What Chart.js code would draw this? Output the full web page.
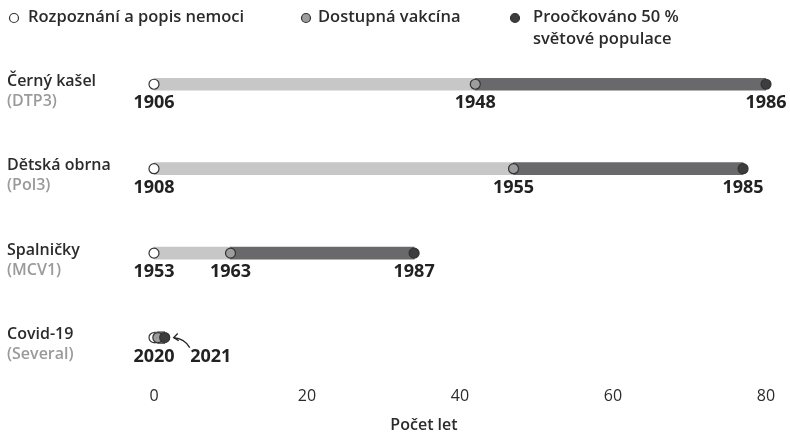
<!DOCTYPE html>
<html>
<head>
<meta charset="utf-8">
<script src="https://cdn.jsdelivr.net/npm/chart.js@4"></script>
<style>
  html, body { margin: 0; padding: 0; background: #fff; }
  #wrap { width: 790px; height: 437px; position: relative; }
</style>
</head>
<body>
<div id="wrap"><canvas id="vaxChart"></canvas></div>
<script>
// Nemoci a jejich podtitulky
const nemoci = ['Černý kašel', 'Dětská obrna', 'Spalničky', 'Covid-19'];
const podtitulky = ['(DTP3)', '(Pol3)', '(MCV1)', '(Several)'];

// Roky (popisky)
const rokRozpoznani = [1906, 1908, 1953, 2020];
const rokVakciny = [1948, 1955, 1963, 2020];
const rokPolovina = [1986, 1985, 1987, 2021];

// Počet let od rozpoznání
const letDoVakciny = [42, 47, 10, 0.5];
const letDoPoloviny = [80, 77, 34, 1.4];

const xTicks = [0, 20, 40, 60, 80];

const FONT = "'Open Sans', 'Noto Sans', sans-serif";
const TEXT = '#2b2b2b';
const SEDA = '#9a9a9a';

const legendaPolozky = [
    { text: ['Rozpoznání a popis nemoci'], fill: '#ffffff', x: 14, tx: 28 },
    { text: ['Dostupná vakcína'], fill: '#9d9d9d', x: 306, tx: 318 },
    { text: ['Proočkováno 50 %', 'světové populace'], fill: '#3d3d3d', x: 515, tx: 533 }
];

function kruh(ctx, x, y, r, fill) {
    ctx.beginPath();
    ctx.arc(x, y, r, 0, Math.PI * 2);
    ctx.fillStyle = fill;
    ctx.fill();
    ctx.lineWidth = 1.2;
    ctx.strokeStyle = '#333';
    ctx.stroke();
}

const popiskyPlugin = {
    id: 'popisky',
    afterDraw(chart) {
        const ctx = chart.ctx;
        const xs = chart.scales.x;
        const ys = chart.scales.y;
        ctx.save();

        // legenda nahoře
        legendaPolozky.forEach(p => {
            kruh(ctx, p.x, 18, 4.5, p.fill);
            ctx.fillStyle = TEXT;
            ctx.font = `600 16.5px ${FONT}`;
            ctx.textAlign = 'left';
            ctx.textBaseline = 'middle';
            p.text.forEach((t, i) => ctx.fillText(t, p.tx, 17 + i * 22));
        });

        // název osy x (v originále není přesně na středu)
        ctx.font = `600 16px ${FONT}`;
        ctx.fillStyle = TEXT;
        ctx.textAlign = 'center';
        ctx.fillText('Počet let', 424, 425);

        nemoci.forEach((n, i) => {
            const y = ys.getPixelForValue(i);

            // názvy nemocí vlevo
            ctx.textAlign = 'left';
            ctx.textBaseline = 'middle';
            ctx.font = `600 16px ${FONT}`;
            ctx.fillStyle = TEXT;
            ctx.fillText(n, 7, y - 3);
            ctx.fillStyle = SEDA;
            ctx.fillText(podtitulky[i], 7, y + 17);

            // roky pod body
            ctx.font = `bold 18px ${FONT}`;
            ctx.fillStyle = '#222';
            ctx.textAlign = 'center';
            const x0 = xs.getPixelForValue(0);
            const x1 = xs.getPixelForValue(letDoVakciny[i]);
            const x2 = xs.getPixelForValue(letDoPoloviny[i]);
            ctx.fillText(rokRozpoznani[i], x0, y + 19);
            if (rokVakciny[i] !== rokRozpoznani[i]) ctx.fillText(rokVakciny[i], x1, y + 19);
            if (x2 - x1 < 30) {
                // krátký úsek: popisek posunout doprava a dát šipku
                ctx.fillText(rokPolovina[i], x2 + 46, y + 19);
                ctx.beginPath();
                ctx.strokeStyle = '#222';
                ctx.lineWidth = 1.3;
                ctx.moveTo(x2 + 25, y + 10);
                ctx.quadraticCurveTo(x2 + 20, y + 1, x2 + 9, y);
                ctx.stroke();
                ctx.beginPath();
                ctx.moveTo(x2 + 13, y - 4);
                ctx.lineTo(x2 + 9, y);
                ctx.lineTo(x2 + 14, y + 3);
                ctx.stroke();
            } else {
                ctx.fillText(rokPolovina[i], x2, y + 19);
            }
        });
        ctx.restore();
    }
};

function main() {
    const bodyData = arr => arr.map((v, i) => ({ x: v, y: i }));
    const bod = (label, data, fill, order) => ({
        type: 'scatter',
        label: label,
        data: bodyData(data),
        pointRadius: 5,
        backgroundColor: fill,
        borderColor: '#333',
        borderWidth: 1.2,
        clip: false,
        order: order
    });

    new Chart(document.getElementById('vaxChart'), {
        type: 'bar',
        data: {
            labels: nemoci,
            datasets: [
                {
                    label: 'do vakcíny',
                    data: letDoVakciny.map(v => [0, v]),
                    backgroundColor: '#c7c7c7',
                    barThickness: 12,
                    grouped: false,
                    order: 3
                },
                {
                    label: 'do 50 %',
                    data: letDoVakciny.map((v, i) => [v, letDoPoloviny[i]]),
                    backgroundColor: '#69696b',
                    barThickness: 12,
                    grouped: false,
                    order: 2
                },
                bod('Rozpoznání', letDoVakciny.map(() => 0), '#ffffff', 1),
                bod('Vakcína', letDoVakciny, '#9d9d9d', 0),
                bod('50 %', letDoPoloviny, '#3d3d3d', -1)
            ]
        },
        options: {
            indexAxis: 'y',
            responsive: false,
            animation: false,
            layout: { padding: { top: 42, left: 154, right: 24, bottom: 24 } },
            scales: {
                x: {
                    type: 'linear',
                    min: 0,
                    max: 80,
                    afterBuildTicks: axis => { axis.ticks = xTicks.map(v => ({ value: v })); },
                    grid: { display: false, drawTicks: false },
                    border: { display: false },
                    ticks: { color: TEXT, font: { family: FONT, size: 16 }, padding: 7 }
                },
                y: {
                    type: 'category',
                    display: false,
                    offset: true
                }
            },
            plugins: {
                legend: { display: false },
                tooltip: { enabled: false }
            }
        },
        plugins: [popiskyPlugin]
    });
}

const cv = document.getElementById('vaxChart');
cv.width = 790;
cv.height = 437;
main();
</script>
</body>
</html>
